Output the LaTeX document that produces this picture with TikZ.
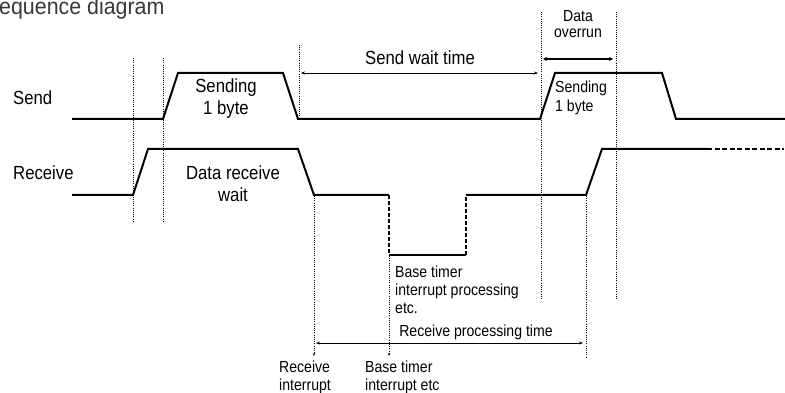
\documentclass[tikz,border=0pt]{standalone}
\usepackage{fontspec}
\setmainfont{Liberation Sans}[FakeStretch=0.88]
\newfontfamily\titlefont{Liberation Sans}[FakeStretch=0.93]
\usetikzlibrary{arrows.meta}
\begin{document}
\begin{tikzpicture}[x=1pt,y=-1pt,
  sig/.style={line width=2pt,line join=miter},
  dsig/.style={line width=2pt,dash pattern=on 4pt off 2pt},
  guide/.style={line width=1pt,dash pattern=on 1pt off 1.2pt},
  meas/.style={line width=0.8pt,{Stealth[length=4pt,width=3pt]}-{Stealth[length=4pt,width=3pt]}},
  ptr/.style={guide,-{Stealth[length=3pt,width=2.5pt]}},
  big/.style={inner sep=0pt,anchor=base,font=\fontsize{19}{22}\selectfont},
  small/.style={inner sep=0pt,anchor=base,font=\fontsize{16}{19}\selectfont},
  smallw/.style={small,anchor=base west}]
\useasboundingbox (0,0) rectangle (785,393);

% title
\node[inner sep=0pt,anchor=base west,text=black!78,font=\titlefont\fontsize{23}{26}\selectfont] (title) at (-1,15) {equence diagram};

% signal labels
\node[big,anchor=base west] (lsend) at (13,105) {Send};
\node[big,anchor=base west] (lrecv) at (13,180) {Receive};

% Send signal
\coordinate (s0) at (72,119);
\coordinate (s1) at (163,119);
\coordinate (s2) at (178,73);
\coordinate (s3) at (283,73);
\coordinate (s4) at (298,119);
\coordinate (s5) at (540,119);
\coordinate (s6) at (555,73);
\coordinate (s7) at (662,73);
\coordinate (s8) at (676,119);
\coordinate (s9) at (785,119);
\draw[sig] (s0)--(s1)--(s2)--(s3)--(s4)--(s5)--(s6)--(s7)--(s8)--(s9);

% Receive signal
\coordinate (r0) at (72,195);
\coordinate (r1) at (133,195);
\coordinate (r2) at (148,149);
\coordinate (r3) at (298,149);
\coordinate (r4) at (314,195);
\coordinate (r5) at (389,195);
\coordinate (r6) at (389,255);
\coordinate (r7) at (466,255);
\coordinate (r8) at (466,195);
\coordinate (r9) at (586,195);
\coordinate (r10) at (602,149);
\coordinate (r11) at (707,149);
\coordinate (r12) at (784,149);
\draw[sig] (r0)--(r1)--(r2)--(r3)--(r4)--(r5);
\draw[dsig] (r5)--(r6);
\draw[sig] (r6)--(r7);
\draw[dsig] (r7)--(r8);
\draw[sig] (r8)--(r9)--(r10)--(r11);
\draw[line width=2pt,dash pattern=on 5pt off 2.5pt] (r11)--(r12);

% guide lines
\coordinate (g1t) at (133,58);  \coordinate (g1b) at (133,222);
\coordinate (g2t) at (163,58);  \coordinate (g2b) at (163,222);
\coordinate (g3t) at (299,45);  \coordinate (g3b) at (299,119);
\coordinate (g4t) at (541,12);  \coordinate (g4b) at (541,300);
\coordinate (g5t) at (616,12);  \coordinate (g5b) at (616,300);
\coordinate (g6t) at (314,196); \coordinate (g6b) at (314,356);
\coordinate (g7t) at (389,256); \coordinate (g7b) at (389,356);
\coordinate (g8t) at (586,196); \coordinate (g8b) at (586,358);
\draw[guide] (g1t)--(g1b);
\draw[guide] (g2t)--(g2b);
\draw[guide] (g3t)--(g3b);
\draw[guide] (g4t)--(g4b);
\draw[guide] (g5t)--(g5b);
\draw[ptr] (g6t)--(g6b);
\draw[ptr] (g7t)--(g7b);
\draw[guide] (g8t)--(g8b);

% measurement arrows
\coordinate (w1) at (301,73);  \coordinate (w2) at (538,73);
\draw[meas] (w1)--(w2);
\node[big] (lwait) at (420,65) {Send wait time};

\coordinate (o1) at (543,59);  \coordinate (o2) at (613,59);
\draw[line width=1.6pt,{Stealth[length=4pt,width=4pt]}-{Stealth[length=4pt,width=4pt]}] (o1)--(o2);
\node[small] (ov1) at (578,22) {Data};
\node[small] (ov2) at (578,38) {overrun};

\coordinate (p1) at (316,343);  \coordinate (p2) at (583,343);
\draw[meas] (p1)--(p2);
\node[small] (lproc) at (476,336) {Receive processing time};

% texts in signals
\node[big] (sb1a) at (226,93) {Sending};
\node[big] (sb1b) at (226,115) {1 byte};
\node[smallw] (sb2a) at (555,93) {Sending};
\node[smallw] (sb2b) at (555,112) {1 byte};
\node[big] (drw1) at (233,180) {Data receive};
\node[big] (drw2) at (233,202) {wait};

\node[smallw] (bt1) at (395,277) {Base timer};
\node[smallw] (bt2) at (395,295) {interrupt processing};
\node[smallw] (bt3) at (395,313) {etc.};

\node[smallw] (ri1) at (279,372) {Receive};
\node[smallw] (ri2) at (279,390) {interrupt};
\node[smallw] (bi1) at (365,372) {Base timer};
\node[smallw] (bi2) at (365,390) {interrupt etc};
\end{tikzpicture}
\end{document}
